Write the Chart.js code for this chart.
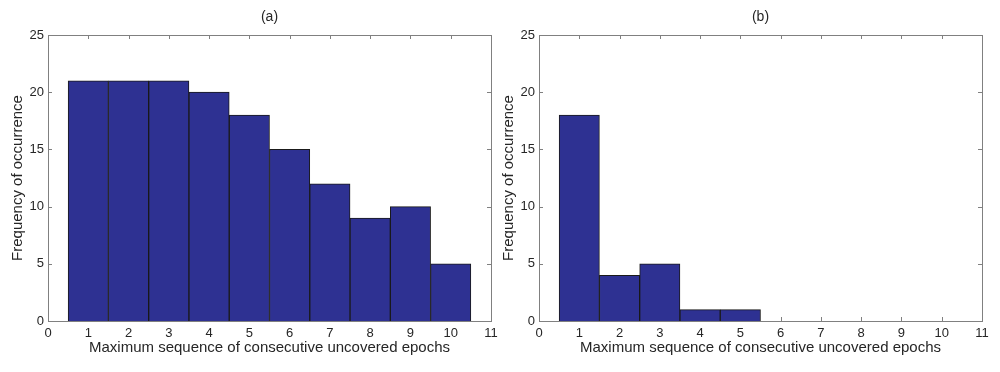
<!DOCTYPE html>
<html>
<head>
<meta charset="utf-8">
<script src="https://cdn.jsdelivr.net/npm/chart.js@4/dist/chart.umd.min.js"></script>
<style>
    html, body { margin: 0; padding: 0; background: #fff; }
    #wrap { position: relative; width: 1000px; height: 372px; overflow: hidden; }
    .panel { position: absolute; top: 0; width: 500px; height: 372px; }
</style>
</head>
<body>
<div id="wrap">
    <div class="panel" style="left:0"><canvas id="chart-a"></canvas></div>
    <div class="panel" style="left:491px"><canvas id="chart-b"></canvas></div>
</div>
<script>
// Data
const binsA = [1, 2, 3, 4, 5, 6, 7, 8, 9, 10];
const countsA = [21, 21, 21, 20, 18, 15, 12, 9, 10, 5];
const binsB = [1, 2, 3, 4, 5];
const countsB = [18, 4, 5, 1, 1];
const xTicks = [0, 1, 2, 3, 4, 5, 6, 7, 8, 9, 10, 11];
const yTicks = [0, 5, 10, 15, 20, 25];

const AXIS_COLOR = '#808080';
const TEXT_COLOR = '#262626';
const BAR_COLOR = '#2E3192';
const FONT = 'Arial, "Liberation Sans", Helvetica, sans-serif';

// inward tick marks on all four sides + top/right box lines (MATLAB style)
const boxTicks = {
    id: 'boxTicks',
    beforeDatasetsDraw(chart) {
        const { ctx, chartArea: a, scales } = chart;
        const len = 4;
        ctx.save();
        ctx.strokeStyle = AXIS_COLOR;
        ctx.lineWidth = 1;
        ctx.beginPath();
        scales.x.ticks.forEach(t => {
            const px = Math.round(scales.x.getPixelForValue(t.value)) + 0.5;
            ctx.moveTo(px, a.bottom); ctx.lineTo(px, a.bottom - len);
            ctx.moveTo(px, a.top); ctx.lineTo(px, a.top + len);
        });
        scales.y.ticks.forEach(t => {
            const py = Math.round(scales.y.getPixelForValue(t.value)) + 0.5;
            ctx.moveTo(a.left, py); ctx.lineTo(a.left + len, py);
            ctx.moveTo(a.right, py); ctx.lineTo(a.right - len, py);
        });
        ctx.stroke();
        ctx.restore();
    },
    afterDraw(chart) {
        const { ctx, chartArea: a } = chart;
        ctx.save();
        ctx.strokeStyle = AXIS_COLOR;
        ctx.lineWidth = 1;
        ctx.beginPath();
        ctx.moveTo(a.left, Math.round(a.top) + 0.5);
        ctx.lineTo(a.right, Math.round(a.top) + 0.5);
        ctx.moveTo(Math.round(a.right) + 0.5, a.top);
        ctx.lineTo(Math.round(a.right) + 0.5, a.bottom);
        ctx.stroke();
        ctx.restore();
    }
};

function makeHist(canvasId, label, bins, counts) {
    const ctx = document.getElementById(canvasId).getContext('2d');
    return new Chart(ctx, {
        type: 'bar',
        data: {
            datasets: [{
                data: bins.map((b, i) => ({ x: b, y: counts[i] })),
                backgroundColor: BAR_COLOR,
                borderColor: '#1a1a1a',
                borderWidth: 1,
                barPercentage: 1,
                categoryPercentage: 1,
            }]
        },
        options: {
            responsive: true,
            maintainAspectRatio: false,
            animation: false,
            layout: { padding: { left: 0, right: 9, top: 0, bottom: 0 } },
            plugins: {
                legend: { display: false },
                tooltip: { enabled: false },
                title: {
                    display: true,
                    fullSize: false,   // center over the plot area, not the canvas
                    text: label,
                    color: TEXT_COLOR,
                    font: { family: FONT, size: 14, weight: 'normal', lineHeight: 1.2 },
                    padding: { top: 9, bottom: 9.2 }
                }
            },
            scales: {
                x: {
                    type: 'linear',
                    min: 0,
                    max: 11,
                    offset: false,
                    afterBuildTicks: s => { s.ticks = xTicks.map(v => ({ value: v })); },
                    afterFit: s => { s.height = 51; s.paddingLeft = 0; s.paddingRight = 0; },
                    grid: { display: false, drawTicks: false, offset: false },
                    border: { color: AXIS_COLOR, width: 1 },
                    ticks: { color: TEXT_COLOR, padding: 5, maxRotation: 0, autoSkip: false,
                             font: { family: FONT, size: 13 } },
                    title: {
                        display: true,
                        text: 'Maximum sequence of consecutive uncovered epochs',
                        color: TEXT_COLOR,
                        font: { family: FONT, size: 15, lineHeight: 1.2 },
                        padding: { top: 0, bottom: 15 }
                    }
                },
                y: {
                    min: 0,
                    max: 25,
                    afterBuildTicks: s => { s.ticks = yTicks.map(v => ({ value: v })); },
                    afterFit: s => { s.width = 48; s.paddingTop = 0; s.paddingBottom = 0; },
                    grid: { display: false, drawTicks: false },
                    border: { color: AXIS_COLOR, width: 1 },
                    ticks: { color: TEXT_COLOR, padding: 4, font: { family: FONT, size: 13 } },
                    title: {
                        display: true,
                        text: 'Frequency of occurrence',
                        color: TEXT_COLOR,
                        font: { family: FONT, size: 15, lineHeight: 1.2 },
                        padding: { top: 9, bottom: 0 }
                    }
                }
            }
        },
        plugins: [boxTicks]
    });
}

makeHist('chart-a', '(a)', binsA, countsA);
makeHist('chart-b', '(b)', binsB, countsB);
</script>
</body>
</html>
